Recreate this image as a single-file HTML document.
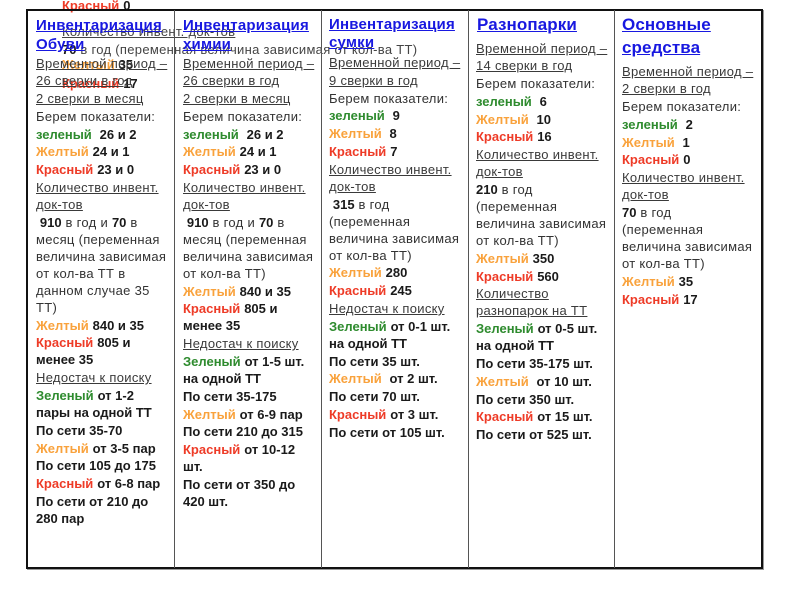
<!DOCTYPE html>
<html>
<head>
<meta charset="utf-8">
<style>
html,body{margin:0;padding:0;}
body{width:800px;height:600px;background:#fff;position:relative;overflow:hidden;font-family:"Liberation Sans",Arial,sans-serif;}
.t{position:absolute;white-space:nowrap;font-size:13px;color:#333;letter-spacing:0.3px;}
.t p{margin:0 0 0.8px 0;line-height:17px;}
.u{text-decoration:underline;color:#3a3a3a;}
b{color:#1a1a1a;letter-spacing:0;font-weight:bold;}
.g{color:#2e8b2e;font-weight:bold;letter-spacing:0;}
.y{color:#f9a23c;font-weight:bold;letter-spacing:0;}
.r{color:#ee3b27;font-weight:bold;letter-spacing:0;}
.h{position:absolute;white-space:nowrap;color:#1818e0;font-weight:bold;text-decoration:underline;font-size:15px;line-height:19px;letter-spacing:0.2px;}
.h2{font-size:17px;line-height:22.5px;letter-spacing:0.1px;}
.vl{position:absolute;top:10px;height:558px;width:1px;background:#555;}
.gh{position:absolute;white-space:nowrap;font-size:13px;color:#444;letter-spacing:0.3px;line-height:17px;}
</style>
</head>
<body>

<!-- ghost overflow text -->
<div class="gh" style="left:62px;top:-3px;"><span class="r">Красный</span> <b>0</b></div>
<div class="gh u" style="left:62px;top:22.5px;">Количество инвент. док-тов</div>
<div class="gh" style="left:62px;top:40.5px;"><b>70</b> в год (переменная величина зависимая от кол-ва ТТ)</div>
<div class="gh" style="left:62px;top:55.5px;"><span class="y">Желтый</span> <b>35</b></div>
<div class="gh" style="left:62px;top:74.5px;"><span class="r">Красный</span> <b>17</b></div>

<!-- table frame -->
<div style="position:absolute;left:26px;top:9px;width:737px;height:560px;border:2px solid #111;box-sizing:border-box;box-shadow:1px 1px 0 #999;"></div>
<div class="vl" style="left:174px;"></div>
<div class="vl" style="left:321px;"></div>
<div class="vl" style="left:468px;"></div>
<div class="vl" style="left:614px;"></div>

<!-- headers -->
<div class="h" style="left:36px;top:15.7px;">Инвентаризация<br>Обуви</div>
<div class="h" style="left:183px;top:15.7px;">Инвентаризация<br>химии</div>
<div class="h" style="left:329px;top:16px;line-height:18px;">Инвентаризация<br>сумки</div>
<div class="h h2" style="left:477px;top:14px;">Разнопарки</div>
<div class="h h2" style="left:622px;top:14px;">Основные<br>средства</div>

<!-- col1 -->
<div class="t" style="left:36px;top:54.5px;">
<p class="u">Временной период –</p>
<p class="u">26 сверки в год</p>
<p class="u">2 сверки в месяц</p>
<p>Берем показатели:</p>
<p><span class="g">зеленый</span>&nbsp; <b>26 и 2</b></p>
<p><span class="y">Желтый</span> <b>24 и 1</b></p>
<p><span class="r">Красный</span> <b>23 и 0</b></p>
<p class="u">Количество инвент.<br>док-тов</p>
<p>&nbsp;<b>910</b> в год и <b>70</b> в<br>месяц (переменная<br>величина зависимая<br>от кол-ва ТТ в<br>данном случае 35<br>ТТ)</p>
<p><span class="y">Желтый</span> <b>840 и 35</b></p>
<p><span class="r">Красный</span> <b>805 и<br>менее 35</b></p>
<p class="u">Недостач к поиску</p>
<p><span class="g">Зеленый</span> <b>от 1-2<br>пары на одной ТТ</b></p>
<p><b>По сети 35-70</b></p>
<p><span class="y">Желтый</span> <b>от 3-5 пар</b></p>
<p><b>По сети 105 до 175</b></p>
<p><span class="r">Красный</span> <b>от 6-8 пар</b></p>
<p><b>По сети от 210 до<br>280 пар</b></p>
</div>

<!-- col2 -->
<div class="t" style="left:183px;top:54.5px;">
<p class="u">Временной период –</p>
<p class="u">26 сверки в год</p>
<p class="u">2 сверки в месяц</p>
<p>Берем показатели:</p>
<p><span class="g">зеленый</span>&nbsp; <b>26 и 2</b></p>
<p><span class="y">Желтый</span> <b>24 и 1</b></p>
<p><span class="r">Красный</span> <b>23 и 0</b></p>
<p class="u">Количество инвент.<br>док-тов</p>
<p>&nbsp;<b>910</b> в год и <b>70</b> в<br>месяц (переменная<br>величина зависимая<br>от кол-ва ТТ)</p>
<p><span class="y">Желтый</span> <b>840 и 35</b></p>
<p><span class="r">Красный</span> <b>805 и<br>менее 35</b></p>
<p class="u">Недостач к поиску</p>
<p><span class="g">Зеленый</span> <b>от 1-5 шт.<br>на одной ТТ</b></p>
<p><b>По сети 35-175</b></p>
<p><span class="y">Желтый</span> <b>от 6-9 пар</b></p>
<p><b>По сети 210 до 315</b></p>
<p><span class="r">Красный</span> <b>от 10-12<br>шт.</b></p>
<p><b>По сети от 350 до<br>420 шт.</b></p>
</div>

<!-- col3 -->
<div class="t" style="left:329px;top:54px;">
<p class="u">Временной период –</p>
<p class="u">9 сверки в год</p>
<p>Берем показатели:</p>
<p><span class="g">зеленый</span>&nbsp; <b>9</b></p>
<p><span class="y">Желтый</span>&nbsp; <b>8</b></p>
<p><span class="r">Красный</span> <b>7</b></p>
<p class="u">Количество инвент.<br>док-тов</p>
<p>&nbsp;<b>315</b> в год<br>(переменная<br>величина зависимая<br>от кол-ва ТТ)</p>
<p><span class="y">Желтый</span> <b>280</b></p>
<p><span class="r">Красный</span> <b>245</b></p>
<p class="u">Недостач к поиску</p>
<p><span class="g">Зеленый</span> <b>от 0-1 шт.<br>на одной ТТ</b></p>
<p><b>По сети 35 шт.</b></p>
<p><span class="y">Желтый</span>&nbsp; <b>от 2 шт.</b></p>
<p><b>По сети 70 шт.</b></p>
<p><span class="r">Красный</span> <b>от 3 шт.</b></p>
<p><b>По сети от 105 шт.</b></p>
</div>

<!-- col4 -->
<div class="t" style="left:476px;top:39.5px;">
<p class="u">Временной период –</p>
<p class="u">14 сверки в год</p>
<p>Берем показатели:</p>
<p><span class="g">зеленый</span>&nbsp; <b>6</b></p>
<p><span class="y">Желтый</span>&nbsp; <b>10</b></p>
<p><span class="r">Красный</span> <b>16</b></p>
<p class="u">Количество инвент.<br>док-тов</p>
<p><b>210</b> в год<br>(переменная<br>величина зависимая<br>от кол-ва ТТ)</p>
<p><span class="y">Желтый</span> <b>350</b></p>
<p><span class="r">Красный</span> <b>560</b></p>
<p class="u">Количество<br>разнопарок на ТТ</p>
<p><span class="g">Зеленый</span> <b>от 0-5 шт.<br>на одной ТТ</b></p>
<p><b>По сети 35-175 шт.</b></p>
<p><span class="y">Желтый</span>&nbsp; <b>от 10 шт.</b></p>
<p><b>По сети 350 шт.</b></p>
<p><span class="r">Красный</span> <b>от 15 шт.</b></p>
<p><b>По сети от 525 шт.</b></p>
</div>

<!-- col5 -->
<div class="t" style="left:622px;top:62.5px;">
<p class="u">Временной период –</p>
<p class="u">2 сверки в год</p>
<p>Берем показатели:</p>
<p><span class="g">зеленый</span>&nbsp; <b>2</b></p>
<p><span class="y">Желтый</span>&nbsp; <b>1</b></p>
<p><span class="r">Красный</span> <b>0</b></p>
<p class="u">Количество инвент.<br>док-тов</p>
<p><b>70</b> в год<br>(переменная<br>величина зависимая<br>от кол-ва ТТ)</p>
<p><span class="y">Желтый</span> <b>35</b></p>
<p><span class="r">Красный</span> <b>17</b></p>
</div>

</body>
</html>
